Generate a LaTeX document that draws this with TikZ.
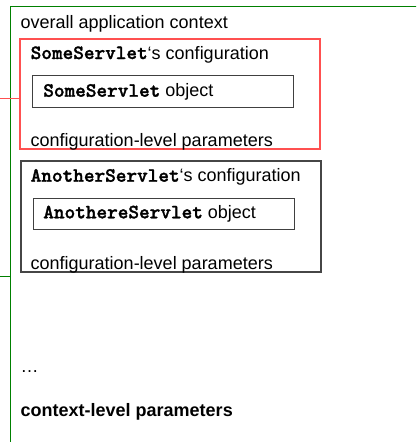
\documentclass[tikz,border=0pt]{standalone}
\usepackage{fontspec}
\setmainfont{Liberation Sans}
\newfontfamily\codefont{lmmonolt10-bold.otf}[Scale=1.126, FakeBold=1.5]
\newcommand{\code}[1]{{\codefont #1}}
\begin{document}
\begin{tikzpicture}[x=1pt,y=-1pt,
  every node/.style={inner sep=0pt, outer sep=0pt},
  lbl/.style={anchor=base west, font=\fontsize{18}{21}\selectfont},
  cfgbox/.style={draw, rectangle, anchor=north west, line width=1.1pt},
  objbox/.style={draw=black!75, rectangle, anchor=north west, line width=1pt},
]
\definecolor{ctxgreen}{RGB}{0,128,0}
\definecolor{cfgred}{RGB}{255,80,80}
\definecolor{cfggray}{RGB}{70,70,70}
\useasboundingbox (0,0) rectangle (416,442);
\clip (0,0) rectangle (416,442);

% application context frame (runs past the right and lower edges)
\node[draw=ctxgreen, line width=1pt, rectangle, anchor=north west,
      minimum width=420pt, minimum height=450pt] (ctx) at (10.5,6) {};

% SomeServlet configuration
\node[cfgbox, draw=cfgred, minimum width=300pt, minimum height=110pt] (cfgA) at (20,39) {};
\node[objbox, minimum width=261pt, minimum height=32pt] (objA) at (32,75) {};

% AnotherServlet configuration
\node[cfgbox, draw=cfggray, minimum width=300pt, minimum height=111pt] (cfgB) at (21,161) {};
\node[objbox, minimum width=261pt, minimum height=31pt] (objB) at (33,198) {};

% stubs on the left edge
\coordinate (stubA) at (0,98);
\coordinate (stubB) at (0,276);
\draw[cfgred, line width=1pt] (stubA) -- (stubA -| cfgA.west);
\draw[ctxgreen, line width=1pt] (stubB) -- (stubB -| ctx.west);

% texts
\node[lbl] (tctx) at (20.7,28.5) {overall application context};
\node[lbl] (tcfgA) at (30.7,59) {\code{SomeServlet}‘s configuration};
\node[lbl] (tobjA) at (43.3,96.7) {\code{SomeServlet} object};
\node[lbl] (tparA) at (30.7,146.7) {configuration-level parameters};
\node[lbl] (tcfgB) at (30.7,181.7) {\code{AnotherServlet}‘s configuration};
\node[lbl] (tobjB) at (43.3,218.3) {\code{AnothereServlet} object};
\node[lbl] (tparB) at (30.7,269) {configuration-level parameters};
\node[lbl] (tdots) at (20.7,372.7) {…};
\node[lbl, font=\fontsize{18}{21}\selectfont\bfseries] (tctxp) at (20.7,416.7) {context-level parameters};
\end{tikzpicture}
\end{document}
